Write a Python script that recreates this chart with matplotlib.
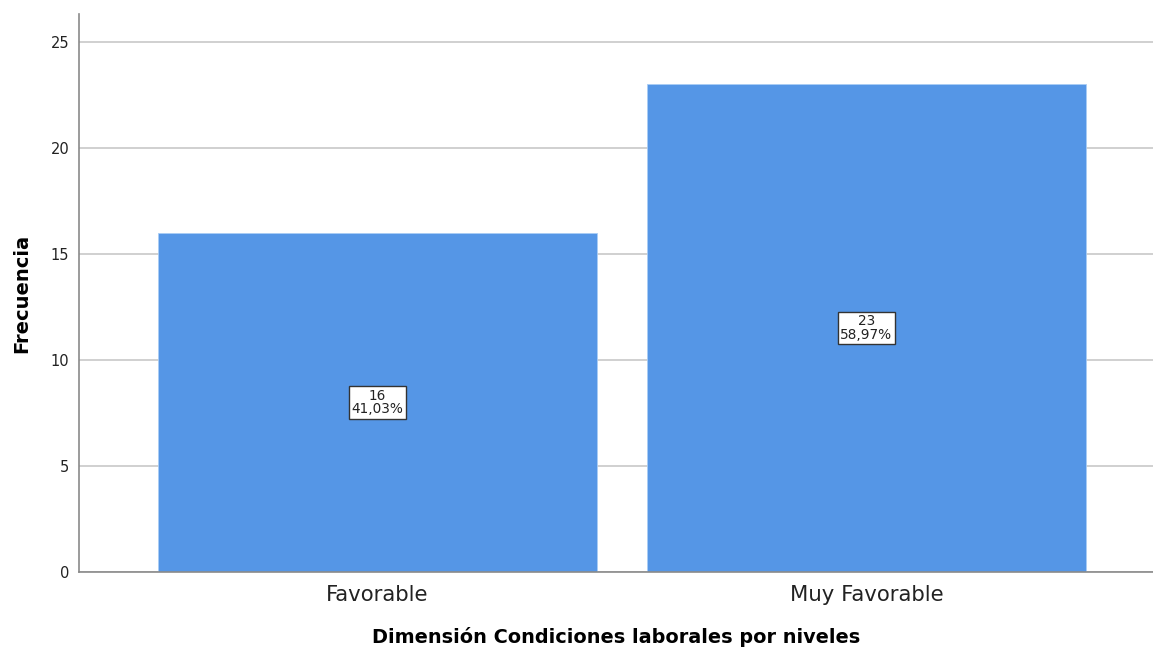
import matplotlib
matplotlib.use('Agg')
import matplotlib.pyplot as plt

categorias = ['Favorable', 'Muy Favorable']
frecuencias = [16, 23]
porcentajes = ['41,03%', '58,97%']

bar_color = '#5596E6'

fig = plt.figure(figsize=(11.53, 6.49), dpi=100)
ax = fig.add_axes([0.0685, 0.1186, 0.9315, 0.8594])

pos = list(range(len(categorias)))
ax.bar(pos, frecuencias, width=0.898, color=bar_color, edgecolor='#a9cdf5', linewidth=0.6, zorder=2)

# etiquetas con frecuencia y porcentaje en el centro de cada barra
for x, f, p in zip(pos, frecuencias, porcentajes):
    ax.text(x, f / 2, '{}\n{}'.format(f, p), ha='center', va='center', fontsize=9.8,
            linespacing=0.95, color='#222222', zorder=3,
            bbox=dict(boxstyle='square,pad=0.18', facecolor='white', edgecolor='#333333', linewidth=1.0))

ax.set_xlim(-0.61, 1.586)
ax.set_ylim(0, 26.3)
ax.set_yticks([0, 5, 10, 15, 20, 25])
ax.set_xticks(pos)
ax.set_xticklabels(categorias, fontsize=15.3, color='#222222')
ax.tick_params(axis='y', labelsize=10.5, labelcolor='#222222', length=0, pad=7)
ax.tick_params(axis='x', length=0, pad=9)

ax.yaxis.grid(True, color='#c8c8c8', linewidth=1.2, zorder=0)
ax.set_axisbelow(True)

for s in ['top', 'right']:
    ax.spines[s].set_visible(False)
for s in ['left', 'bottom']:
    ax.spines[s].set_color('#8a8a8a')
    ax.spines[s].set_linewidth(1.2)

ax.set_ylabel('Frecuencia', fontsize=14, fontweight='bold', labelpad=14)
ax.set_xlabel('Dimensión Condiciones laborales por niveles', fontsize=13.9, fontweight='bold', labelpad=16)

fig.savefig('out.png', dpi=100)
